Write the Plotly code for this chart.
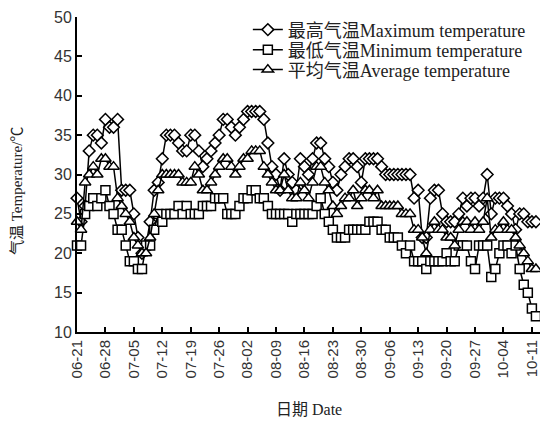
import pandas as pd
import plotly.graph_objects as go

# ---- data ----
start_date = "2015-06-21"
n_days = 114
dates = pd.date_range(start_date, periods=n_days, freq="D")

max_temp = [27,24,26,33,35,35,34,37,36,36,
            37,28,28,28,25,22,20,21,24,28,
            29,32,35,35,35,34,33,33,35,35,
            33,31,32,33,34,35,37,37,36,35,
            36,37,38,38,38,38,37,34,31,30,
            28,32,30,29,28,32,31,30,32,34,
            34,32,31,29,28,30,31,32,32,31,
            29,32,32,32,32,31,30,30,30,30,
            30,30,30,27,28,22,22,27,28,28,
            25,24,24,24,25,27,26,27,27,26,
            27,30,25,27,27,27,26,25,23,25,
            25,24,24,24]

min_temp = [21,21,25,26,27,26,27,28,26,25,
            23,23,21,19,19,18,18,21,21,23,
            25,24,25,25,25,26,25,26,25,25,
            25,26,26,26,27,27,27,25,25,25,
            26,27,27,28,28,27,27,26,25,25,
            25,25,25,24,25,25,25,25,25,26,
            27,25,24,23,22,22,22,23,23,23,
            23,23,24,24,24,23,23,22,22,22,
            21,20,21,19,19,19,18,19,19,19,
            19,20,19,19,21,21,21,19,18,21,
            21,21,17,18,20,21,21,20,21,18,
            16,15,13,12]

avg_temp = [24,23,29,30,31,30,32,32,31,31,
            27,26,25,24,22,21,20,20,22,25,
            28,30,30,30,30,30,29,29,29,31,
            30,28,28,29,30,31,32,32,31,30,
            31,32,32,33,33,33,31,30,29,28,
            28,30,28,27,27,29,28,27,29,31,
            31,29,28,26,25,26,27,27,28,26,
            27,28,28,27,28,26,26,26,26,26,
            25,25,25,23,23,22,20,23,24,23,
            23,22,22,21,23,24,24,23,24,23,
            24,27,22,23,23,24,23,23,22,21,
            20,19,18,18]

series_names = ["最高气温Maximum temperature",
                "最低气温Minimum temperature",
                "平均气温Average temperature"]
y_ticks = [10, 15, 20, 25, 30, 35, 40, 45, 50]

serif = "Times New Roman, Liberation Serif, Noto Sans CJK SC, serif"
sans = "Arial, Liberation Sans, sans-serif"

fig = go.Figure()
specs = [(max_temp, "diamond", 9, "legend"),
         (min_temp, "square", 9, "legend2"),
         (avg_temp, "triangle-up", 10, "legend3")]
for (vals, sym, sz, lg), name in zip(specs, series_names):
    fig.add_trace(go.Scatter(
        x=dates, y=vals, mode="lines+markers", name=name, legend=lg,
        line=dict(color="black", width=1.5),
        marker=dict(symbol=sym, size=sz, color="white",
                    line=dict(color="black", width=1.5)),
        cliponaxis=False,
    ))

legend_style = dict(x=0.369, xanchor="left", yanchor="middle",
                    font=dict(family=serif, size=18, color="#222"),
                    bgcolor="rgba(0,0,0,0)", borderwidth=0)

end_date = pd.Timestamp(start_date) + pd.Timedelta(days=n_days)
fig.update_layout(
    width=540, height=421,
    margin=dict(l=77, r=0, t=17, b=89),
    paper_bgcolor="white", plot_bgcolor="white",
    showlegend=True,
    legend=dict(y=0.959, **legend_style),
    legend2=dict(y=0.895, **legend_style),
    legend3=dict(y=0.832, **legend_style),
    xaxis=dict(type="date", range=[pd.Timestamp(start_date), end_date],
               tick0=start_date, dtick=7 * 86400000, tickformat="%m-%d",
               tickangle=-90, ticks="inside", ticklen=5, tickwidth=1.5,
               tickcolor="black", showline=True, linecolor="black",
               linewidth=2, showgrid=False, zeroline=False,
               tickfont=dict(family=sans, size=15, color="#333")),
    yaxis=dict(range=[10, 50], tickvals=y_ticks, ticks="inside", ticklen=5,
               tickwidth=1.5, tickcolor="black", showline=True,
               linecolor="black", linewidth=2, showgrid=False,
               zeroline=False,
               tickfont=dict(family=sans, size=16, color="#333")),
    annotations=[
        dict(text="气温 Temperature/℃", xref="paper", yref="paper",
             x=-0.13, y=0.45, xanchor="center", yanchor="middle",
             textangle=-90, showarrow=False,
             font=dict(family=serif, size=15, color="#222")),
        dict(text="日期 Date", xref="paper", yref="paper",
             x=0.5, y=-0.245, xanchor="center", yanchor="middle",
             showarrow=False,
             font=dict(family=serif, size=16, color="#222")),
    ],
)

fig.write_html("out.html",
               config={"displayModeBar": False},
               post_script="document.body.style.margin='0';document.body.style.padding='0';")
